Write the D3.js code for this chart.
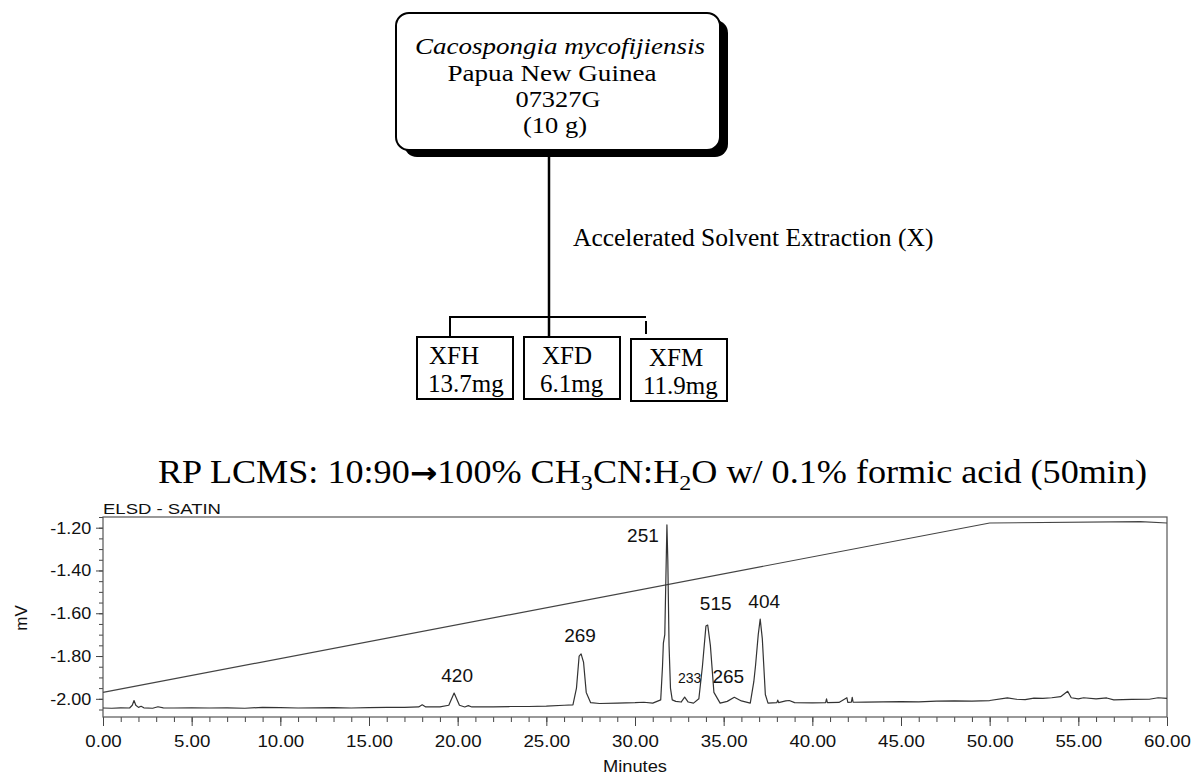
<!DOCTYPE html>
<html>
<head>
<meta charset="utf-8">
<script src="https://cdnjs.cloudflare.com/ajax/libs/d3/7.8.5/d3.min.js"></script>
<style>
    body { margin: 0; background: #fff; }
    svg { display: block; }
    .serif { font-family: "Liberation Serif", "Times New Roman", serif; fill: #000; }
    .sans { font-family: "Liberation Sans", Arial, sans-serif; fill: #111; }
    .axis path, .axis line { stroke: #444; }
    .axis text { font-family: "Liberation Sans", Arial, sans-serif; fill: #111; }
</style>
</head>
<body>
<svg id="chart" width="1193" height="776"></svg>
<script>
// ---- flowchart text ----
var sampleLines = ["Cacospongia mycofijiensis", "Papua New Guinea", "07327G", "(10 g)"];
var stepLabel = "Accelerated Solvent Extraction (X)";
var fractionNames = ["XFH", "XFD", "XFM"];
var fractionMass = ["13.7mg", "6.1mg", "11.9mg"];

// ---- chromatogram ----
var xTicks = [0, 5, 10, 15, 20, 25, 30, 35, 40, 45, 50, 55, 60];
var yTicks = [-2.00, -1.80, -1.60, -1.40, -1.20];

// gradient trace (minutes, mV)
var gradientTime = [0, 50, 58.5, 60];
var gradientMv = [-1.970, -1.178, -1.172, -1.178];

// ELSD trace (minutes, mV)
var elsdTime = [0, 0.5, 1.0, 1.5, 1.65, 1.75, 1.85, 2.0, 2.15, 2.3, 2.8, 3.1, 3.4, 4, 5, 6, 7, 8, 9, 10,
    11, 12, 13, 14, 15, 16, 17, 17.8, 18.0, 18.2, 19, 19.5, 19.8, 20.1, 20.4, 20.6, 20.8, 22, 23, 24, 25,
    26, 26.5, 26.7, 26.85, 26.96, 27.1, 27.25, 27.5, 28, 29, 30, 30.5, 31, 31.45, 31.55, 31.6, 31.68,
    31.75, 31.8, 31.85, 31.92, 32.0, 32.1, 32.3, 32.6, 32.8, 33.0, 33.3, 33.6, 33.8, 34.0, 34.1, 34.25,
    34.45, 34.8, 35.2, 35.6, 36.0, 36.5, 36.7, 36.8, 36.95, 37.06, 37.18, 37.35, 37.5, 38.0, 38.05, 38.1,
    38.5, 38.7, 39, 40, 40.75, 40.8, 40.85, 41.5, 41.95, 42.0, 42.2, 42.25, 42.3, 43, 44, 45, 46, 47, 48,
    49, 50, 51, 51.5, 52, 52.5, 53, 53.5, 54.0, 54.4, 54.6, 55, 55.3, 56, 56.6, 57, 58, 59, 59.5, 60];
var elsdMv = [-2.043, -2.044, -2.042, -2.043, -2.030, -2.008, -2.030, -2.040, -2.035, -2.042, -2.044, -2.037, -2.042, -2.043, -2.042, -2.043, -2.042, -2.044, -2.040, -2.041,
    -2.043, -2.042, -2.041, -2.043, -2.041, -2.040, -2.040, -2.038, -2.028, -2.038, -2.038, -2.030, -1.973, -2.030, -2.038, -2.032, -2.038, -2.038, -2.036, -2.036, -2.034,
    -2.030, -2.028, -1.950, -1.800, -1.790, -1.830, -1.970, -2.018, -2.022, -2.020, -2.018, -2.016, -2.020, -2.005, -1.850, -1.740, -1.700,
    -1.400, -1.187, -1.350, -1.750, -1.950, -2.005, -2.012, -2.015, -1.992, -2.015, -2.020, -2.000, -1.850, -1.660, -1.655, -1.750,
    -1.970, -2.020, -2.012, -1.993, -2.010, -2.020, -1.920, -1.842, -1.700, -1.627, -1.720, -1.980, -2.020, -2.018, -2.006, -2.018,
    -2.010, -2.008, -2.018, -2.019, -2.018, -2.000, -2.018, -2.017, -1.995, -2.017, -2.016, -1.993, -2.016, -2.015, -2.014, -2.013, -2.014, -2.011, -2.010,
    -2.011, -2.008, -1.996, -2.002, -2.004, -1.997, -1.998, -1.995, -1.990, -1.965, -1.995, -2.000, -1.995, -2.000, -1.996, -2.005, -2.003, -2.002, -1.995, -1.998];

// peak labels (retention time, apex mV)
var peakNames = ["420", "269", "251", "233", "515", "265", "404"];
var peakTime = [19.8, 26.96, 31.8, 32.8, 34.1, 35.6, 37.06];
var peakApex = [-1.973, -1.790, -1.187, -1.992, -1.655, -1.993, -1.627];

var svg = d3.select("#chart");
svg.append("rect").attr("width", 1193).attr("height", 776).attr("fill", "#fff");

// ------------------ flowchart ------------------
var box = {x: 396, y: 13, w: 324, h: 137, r: 13};
svg.append("rect")
    .attr("x", box.x + 8).attr("y", box.y + 7)
    .attr("width", box.w).attr("height", box.h)
    .attr("rx", box.r).attr("fill", "#000");
svg.append("rect")
    .attr("x", box.x).attr("y", box.y)
    .attr("width", box.w).attr("height", box.h)
    .attr("rx", box.r).attr("fill", "#fff")
    .attr("stroke", "#000").attr("stroke-width", 2);

var lineX = [560, 552, 558, 555];
var lineY = [54, 81, 107, 133];
svg.selectAll("text.sample")
    .data(sampleLines)
    .enter().append("text")
    .attr("class", "serif sample")
    .attr("x", function (d, i) { return lineX[i]; })
    .attr("y", function (d, i) { return lineY[i]; })
    .attr("text-anchor", "middle")
    .style("font-size", "23px")
    .attr("textLength", function (d, i) { return [290, 209, 85, 64][i]; })
    .attr("lengthAdjust", "spacingAndGlyphs")
    .style("font-style", function (d, i) { return i === 0 ? "italic" : "normal"; })
    .text(function (d) { return d; });

// connector lines
svg.append("line").attr("x1", 549).attr("x2", 549).attr("y1", box.y + box.h).attr("y2", 337)
    .attr("stroke", "#000").attr("stroke-width", 2.5);
svg.append("path")
    .attr("d", "M450,337V317H646M646,321V334")
    .attr("fill", "none").attr("stroke", "#000").attr("stroke-width", 2);

svg.append("text").attr("class", "serif")
    .attr("x", 573).attr("y", 246)
    .style("font-size", "25.5px")
    .text(stepLabel);

var fracX = [417, 524, 631];
var fracY = [337, 337, 339];
var frac = svg.selectAll("g.frac")
    .data(fractionNames)
    .enter().append("g")
    .attr("class", "frac")
    .attr("transform", function (d, i) { return "translate(" + fracX[i] + "," + fracY[i] + ")"; });
frac.append("rect").attr("width", 96).attr("height", 62)
    .attr("fill", "#fff").attr("stroke", "#000").attr("stroke-width", 2);
frac.append("text").attr("class", "serif")
    .attr("x", function (d, i) { return i === 0 ? 12 : 18; }).attr("y", 27)
    .style("font-size", "25px")
    .text(function (d) { return d; });
frac.append("text").attr("class", "serif")
    .attr("x", function (d, i) { return i === 0 ? 11 : (i === 1 ? 16 : 12); }).attr("y", 55)
    .style("font-size", "25px")
    .text(function (d, i) { return fractionMass[i]; });

// ------------------ title ------------------
var title = svg.append("text").attr("class", "serif")
    .attr("x", 158).attr("y", 483)
    .attr("textLength", 989).attr("lengthAdjust", "spacingAndGlyphs")
    .style("font-size", "33px");
title.append("tspan").text("RP LCMS: 10:90");
title.append("tspan").style("font-family", "DejaVu Sans").style("font-size", "30px").style("font-weight", "bold").text("\u2192");
title.append("tspan").text("100% CH");
title.append("tspan").attr("dy", 7).style("font-size", "22px").text("3");
title.append("tspan").attr("dy", -7).text("CN:H");
title.append("tspan").attr("dy", 7).style("font-size", "22px").text("2");
title.append("tspan").attr("dy", -7).text("O w/ 0.1% formic acid (50min)");

// ------------------ chromatogram ------------------
var plot = {left: 103, right: 1167, top: 517, bottom: 717};

var x = d3.scaleLinear().domain([0, 60]).range([plot.left, plot.right]);
var y = d3.scaleLinear().domain([-2.085, -1.15]).range([plot.bottom, plot.top]);

var fmt = d3.formatLocale({decimal: ".", thousands: ",", grouping: [3], currency: ["", ""], minus: "-"}).format(".2f");

// minor ticks
svg.append("g").attr("class", "axis")
    .attr("transform", "translate(0," + plot.bottom + ")")
    .call(d3.axisBottom(x).tickValues(d3.range(0, 61, 1)).tickSize(5).tickFormat(""))
    .call(function (g) { g.select(".domain").remove(); });
svg.append("g").attr("class", "axis")
    .attr("transform", "translate(" + plot.left + ",0)")
    .call(d3.axisLeft(y).tickValues(d3.range(-2.05, -1.149, 0.05)).tickSize(4).tickFormat(""))
    .call(function (g) { g.select(".domain").remove(); });

// major ticks + labels
var xAxis = svg.append("g").attr("class", "axis")
    .attr("transform", "translate(0," + plot.bottom + ")")
    .call(d3.axisBottom(x).tickValues(xTicks).tickSize(9).tickPadding(9).tickFormat(fmt));
xAxis.select(".domain").remove();
xAxis.selectAll("text").style("font-size", "17px").attr("transform", "scale(1.1,1)");

var yAxis = svg.append("g").attr("class", "axis")
    .attr("transform", "translate(" + plot.left + ",0)")
    .call(d3.axisLeft(y).tickValues(yTicks).tickSize(7).tickPadding(4).tickFormat(fmt));
yAxis.select(".domain").remove();
yAxis.selectAll("text").style("font-size", "17px").attr("transform", "scale(1.06,1)");

// frame
svg.append("rect")
    .attr("x", plot.left).attr("y", plot.top)
    .attr("width", plot.right - plot.left).attr("height", plot.bottom - plot.top)
    .attr("fill", "none").attr("stroke", "#555").attr("stroke-width", 1.2);

svg.append("text").attr("class", "sans")
    .attr("x", plot.left).attr("y", plot.top - 3)
    .attr("textLength", 118).attr("lengthAdjust", "spacingAndGlyphs")
    .style("font-size", "15px")
    .text("ELSD - SATIN");

svg.append("text").attr("class", "sans")
    .attr("transform", "translate(27,618) rotate(-90)")
    .attr("text-anchor", "middle")
    .style("font-size", "17px")
    .text("mV");

svg.append("text").attr("class", "sans")
    .attr("x", 603).attr("y", 772)
    .attr("textLength", 64).attr("lengthAdjust", "spacingAndGlyphs")
    .style("font-size", "16px")
    .text("Minutes");

var line = d3.line()
    .x(function (d) { return x(d[0]); })
    .y(function (d) { return y(d[1]); });

svg.append("path")
    .datum(gradientTime.map(function (t, i) { return [t, gradientMv[i]]; }))
    .attr("d", line)
    .attr("fill", "none").attr("stroke", "#444").attr("stroke-width", 1.2);

svg.append("path")
    .datum(elsdTime.map(function (t, i) { return [t, elsdMv[i]]; }))
    .attr("d", line)
    .attr("fill", "none").attr("stroke", "#333").attr("stroke-width", 1.2)
    .attr("stroke-linejoin", "round");

// peak label nudges (px)
var nudgeX = [3, -1, -24, 5, 8, -6, 4];
var nudgeY = [-11, -12, 17, -14, -15, -14, -11];
svg.selectAll("text.peak")
    .data(peakNames)
    .enter().append("text")
    .attr("class", "sans peak")
    .attr("x", function (d, i) { return x(peakTime[i]) + nudgeX[i]; })
    .attr("y", function (d, i) { return y(peakApex[i]) + nudgeY[i]; })
    .attr("text-anchor", "middle")
    .style("font-size", function (d) { return d === "233" ? "14px" : "19px"; })
    .text(function (d) { return d; });
</script>
</body>
</html>
